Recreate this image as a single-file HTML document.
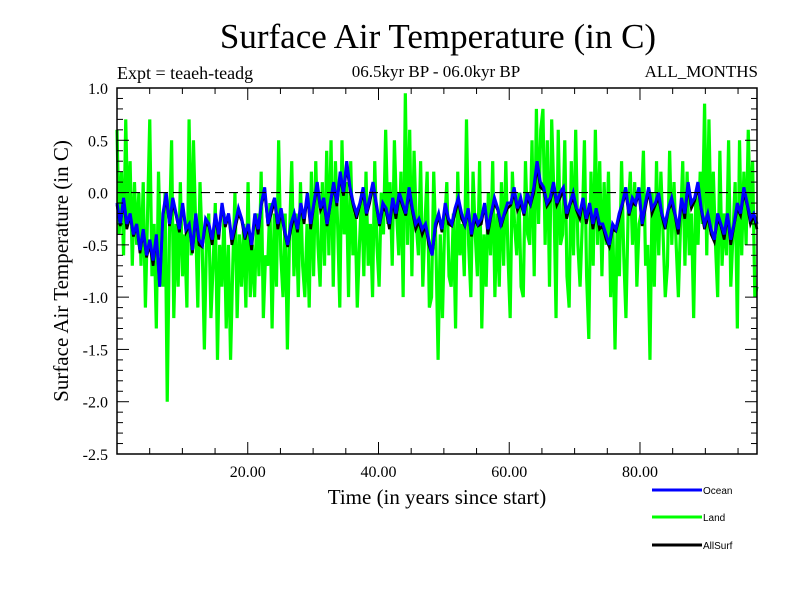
<!DOCTYPE html>
<html><head><meta charset="utf-8"><style>
body{margin:0;background:#fff;width:800px;height:600px;overflow:hidden}
svg{display:block}
.serif{font-family:"Liberation Serif",serif}
.sans{font-family:"Liberation Sans",sans-serif}
</style></head><body>
<svg id="chart" width="800" height="600">
<text class="serif" x="438" y="48" font-size="35" text-anchor="middle">Surface Air Temperature (in C)</text>
<text class="serif" x="117" y="79" font-size="18">Expt = teaeh-teadg</text>
<text class="serif" x="436" y="77" font-size="17" text-anchor="middle">06.5kyr BP - 06.0kyr BP</text>
<text class="serif" x="758" y="77" font-size="17" text-anchor="end">ALL_MONTHS</text>
<text class="serif" x="437" y="504" font-size="21" text-anchor="middle">Time (in years since start)</text>
<text class="serif" x="0" y="0" font-size="21" text-anchor="middle" transform="translate(68,271) rotate(-90)">Surface Air Temperature (in C)</text>
<g id="series"></g>
<g id="axes"></g>
<g>
<line x1="652" y1="490" x2="702" y2="490" stroke="#0000ff" stroke-width="3"/>
<text class="sans" x="703" y="494" font-size="10">Ocean</text>
<line x1="652" y1="517" x2="702" y2="517" stroke="#00ff00" stroke-width="3"/>
<text class="sans" x="703" y="521" font-size="10">Land</text>
<line x1="652" y1="545" x2="702" y2="545" stroke="#000" stroke-width="3"/>
<text class="sans" x="703" y="549" font-size="10">AllSurf</text>
</g>
</svg>
<script>
const xTickLabels=["20.00","40.00","60.00","80.00"];
const xTickValues=[20,40,60,80];
const yTickValues=[1.0,0.5,0.0,-0.5,-1.0,-1.5,-2.0,-2.5];
const yTickLabels=["1.0","0.5","0.0","-0.5","-1.0","-1.5","-2.0","-2.5"];
const timeSpan=97.9;
const land=[0.6,-0.4,0.2,-0.6,0.7,-0.3,0.3,-0.7,0.1,-0.5,0.0,-0.7,0.1,-1.1,-0.2,0.7,-0.8,-0.3,-1.3,0.2,-0.6,-0.9,0.0,-2.0,-0.4,0.5,-1.2,-0.3,-0.9,0.1,-0.8,-0.4,-1.1,0.7,-0.6,0.5,-0.3,-1.1,0.1,-0.5,-1.5,-0.4,-0.2,-1.2,-0.7,-0.1,-1.6,-0.5,-0.9,-0.2,-1.3,-0.5,-1.6,-0.7,0.0,-1.2,-0.4,-0.9,-0.3,-1.1,0.1,-1.0,-0.5,-1.0,-0.2,-0.8,0.2,-1.2,-0.6,-0.7,-0.1,-1.3,-0.2,-0.9,0.5,-0.6,-1.0,-0.2,-1.5,-0.4,0.3,-0.8,-0.2,-1.0,0.1,-0.7,-1.0,-0.3,-1.1,0.2,-0.8,0.3,-0.5,-0.9,0.1,-0.7,0.4,-0.6,0.5,-0.9,0.3,-0.3,-1.1,0.5,-0.4,0.1,-1.0,0.3,-0.6,-0.2,-1.1,-0.5,0.0,-0.8,0.2,-0.7,-0.3,-1.0,0.3,-0.5,-0.9,0.0,-0.4,0.6,-0.3,0.1,-0.7,0.5,-0.2,-0.6,0.2,-1.0,0.95,-0.5,0.6,-0.8,0.4,-0.3,-0.6,0.3,-0.9,-0.3,0.2,-1.1,-1.0,0.2,-0.5,-1.6,-0.4,-1.2,-0.3,0.1,-0.8,-0.9,-0.2,-1.3,0.2,-0.6,-0.3,-0.8,0.7,-0.5,-1.0,0.2,-0.4,-0.8,0.3,-1.3,-0.4,-0.9,0.0,-0.6,0.3,-1.0,-0.2,-0.9,0.1,-0.7,0.3,-0.6,-1.2,0.2,-0.3,-0.6,0.0,-0.9,-1.0,0.3,-0.4,-0.5,0.5,-0.8,0.8,-0.3,0.6,0.8,-0.5,0.5,-0.9,0.7,0.0,-1.2,0.6,-0.5,-0.4,0.5,-0.8,-1.1,0.3,-0.6,0.6,-0.5,-0.9,-0.3,0.5,-0.8,-1.4,0.2,-0.7,0.6,-0.5,0.3,-0.8,0.1,-0.5,0.2,-1.0,-0.3,-1.5,-0.3,-0.8,0.3,-0.6,-1.2,-0.2,0.2,-0.5,0.1,-0.9,-0.3,-0.2,0.4,-0.7,-0.5,-1.6,0.0,-0.9,0.3,-0.6,0.2,-0.4,-1.0,-0.7,0.4,-0.5,0.1,-0.5,-1.0,-0.3,0.3,-0.7,0.2,-0.6,-0.2,-1.2,0.0,-0.5,0.2,-0.3,0.85,-0.6,0.7,-0.4,0.2,-0.5,-1.0,0.4,-0.7,-0.2,-0.6,0.5,-0.9,-0.4,0.1,-1.3,0.5,-0.6,0.2,-0.5,0.6,-0.3,0.3,-1.0,-0.9];
const allSurf=[-0.12,-0.32,-0.08,-0.35,-0.22,-0.42,-0.32,-0.58,-0.38,-0.62,-0.5,-0.7,-0.42,-0.9,-0.22,-0.05,-0.32,-0.1,-0.22,-0.38,-0.12,-0.38,-0.32,-0.58,-0.22,-0.5,-0.52,-0.3,-0.32,-0.5,-0.22,-0.45,-0.12,-0.33,-0.22,-0.5,-0.35,-0.2,-0.27,-0.45,-0.32,-0.55,-0.22,-0.4,-0.12,0.0,-0.32,-0.2,-0.08,-0.35,-0.18,-0.38,-0.52,-0.35,-0.22,-0.38,-0.12,-0.3,-0.03,-0.35,-0.12,0.05,-0.17,-0.1,-0.32,-0.12,0.07,-0.13,0.17,-0.03,0.25,0.02,-0.13,-0.25,-0.12,0.0,-0.22,-0.1,0.07,-0.13,-0.32,-0.15,-0.18,-0.35,-0.08,-0.25,-0.03,-0.13,-0.22,0.0,-0.18,-0.35,-0.28,-0.4,-0.32,-0.5,-0.6,-0.35,-0.22,-0.38,-0.12,-0.3,-0.32,-0.2,-0.08,-0.25,-0.32,-0.18,-0.42,-0.25,-0.32,-0.3,-0.12,-0.4,-0.22,-0.1,-0.17,-0.33,-0.22,-0.15,-0.12,0.0,-0.17,-0.1,-0.22,-0.05,-0.12,0.0,0.25,0.05,0.02,-0.13,-0.08,0.05,-0.12,-0.05,0.02,-0.25,-0.12,-0.05,-0.17,-0.25,-0.08,-0.3,-0.12,-0.35,-0.17,-0.35,-0.32,-0.45,-0.52,-0.35,-0.37,-0.25,-0.12,0.0,-0.22,-0.1,-0.12,0.0,-0.32,-0.15,0.02,-0.2,-0.12,-0.05,-0.22,-0.35,-0.17,-0.1,-0.22,-0.4,-0.08,-0.25,0.07,-0.15,-0.08,0.05,-0.17,-0.35,-0.22,-0.4,-0.47,-0.25,-0.32,-0.45,-0.22,-0.5,-0.32,-0.15,-0.22,0.0,-0.12,-0.3,-0.22,-0.35];
const ocean=[-0.1,-0.3,-0.05,-0.3,-0.2,-0.4,-0.3,-0.55,-0.35,-0.6,-0.45,-0.65,-0.4,-0.9,-0.2,0.0,-0.3,-0.05,-0.2,-0.35,-0.1,-0.35,-0.3,-0.55,-0.2,-0.45,-0.5,-0.25,-0.3,-0.45,-0.2,-0.4,-0.1,-0.3,-0.2,-0.45,-0.3,-0.15,-0.25,-0.4,-0.3,-0.5,-0.2,-0.35,-0.1,0.05,-0.3,-0.15,-0.05,-0.3,-0.15,-0.35,-0.5,-0.3,-0.2,-0.35,-0.1,-0.25,0.0,-0.3,-0.1,0.1,-0.15,-0.05,-0.3,-0.1,0.1,-0.1,0.2,0.0,0.3,0.05,-0.1,-0.2,-0.1,0.05,-0.2,-0.05,0.1,-0.1,-0.3,-0.1,-0.15,-0.3,-0.05,-0.2,0.0,-0.1,-0.2,0.05,-0.15,-0.3,-0.25,-0.35,-0.3,-0.45,-0.6,-0.3,-0.2,-0.35,-0.1,-0.25,-0.3,-0.15,-0.05,-0.2,-0.3,-0.15,-0.4,-0.2,-0.3,-0.25,-0.1,-0.35,-0.2,-0.05,-0.15,-0.3,-0.2,-0.1,-0.1,0.05,-0.15,-0.05,-0.2,0.0,-0.1,0.05,0.3,0.1,0.05,-0.1,-0.05,0.1,-0.1,0.0,0.05,-0.2,-0.1,0.0,-0.15,-0.2,-0.05,-0.25,-0.1,-0.3,-0.15,-0.3,-0.3,-0.4,-0.5,-0.3,-0.35,-0.2,-0.1,0.05,-0.2,-0.05,-0.1,0.05,-0.3,-0.1,0.05,-0.15,-0.1,0.0,-0.2,-0.3,-0.15,-0.05,-0.2,-0.35,-0.05,-0.2,0.1,-0.1,-0.05,0.1,-0.15,-0.3,-0.2,-0.35,-0.45,-0.2,-0.3,-0.4,-0.2,-0.45,-0.3,-0.1,-0.2,0.05,-0.1,-0.25,-0.2,-0.3];

const L=117,R=757,T=88,B=454,xMin=0,xMax=97.9,yMin=-2.5,yMax=1.0;
function xs(v){return L+(v-xMin)/(xMax-xMin)*(R-L);}
function ys(v){return T+(yMax-v)/(yMax-yMin)*(B-T);}
const NS="http://www.w3.org/2000/svg";
function mk(tag,attrs,parent){const e=document.createElementNS(NS,tag);for(const k in attrs)e.setAttribute(k,attrs[k]);parent.appendChild(e);return e;}
const sg=document.getElementById('series'), ag=document.getElementById('axes');

function drawSeries(arr,color,w,name){
  const n=arr.length;let d='';
  arr.forEach((v,i)=>{const t=i/(n-1)*timeSpan;d+=(i?'L':'M')+xs(t).toFixed(2)+' '+ys(v).toFixed(2);});
  const p=mk('path',{d:d,fill:'none',stroke:color,'stroke-width':w,'stroke-linejoin':'miter'},sg);
  
  
}
drawSeries(land,'#00ff00',3.2,'land-line');
drawSeries(allSurf,'#000000',2.6,'allsurf-line');
drawSeries(ocean,'#0000ff',3,'ocean-line');

const zl=mk('line',{x1:L,x2:R,y1:ys(0),y2:ys(0),stroke:'#000','stroke-width':1.2,'stroke-dasharray':'9 5'},ag);


const fr=mk('rect',{x:L,y:T,width:R-L,height:B-T,fill:'none',stroke:'#000','stroke-width':1.5},ag);



for(let k=0;k<=35;k++){
  const v=yMin+k*0.1;const y=ys(v);const major=(k%5===0);const len=major?12:6;
  mk('line',{x1:L,x2:L+len,y1:y,y2:y,stroke:'#000','stroke-width':1},ag);
  mk('line',{x1:R,x2:R-len,y1:y,y2:y,stroke:'#000','stroke-width':1},ag);
}
yTickValues.forEach((v,i)=>{
  const t=mk('text',{x:108,y:ys(v)+6,'font-size':16,'text-anchor':'end','class':'serif'},ag);
  t.textContent=yTickLabels[i];
  
  
});
for(let v=5;v<xMax;v+=5){
  const x=xs(v);const len=(v%20===0)?12:6;
  mk('line',{x1:x,x2:x,y1:B,y2:B-len,stroke:'#000','stroke-width':1},ag);
  mk('line',{x1:x,x2:x,y1:T,y2:T+len,stroke:'#000','stroke-width':1},ag);
}
xTickValues.forEach((v,i)=>{
  const t=mk('text',{x:xs(v),y:477,'font-size':16,'text-anchor':'middle','class':'serif'},ag);
  t.textContent=xTickLabels[i];
  
  
});
</script>
</body></html>
